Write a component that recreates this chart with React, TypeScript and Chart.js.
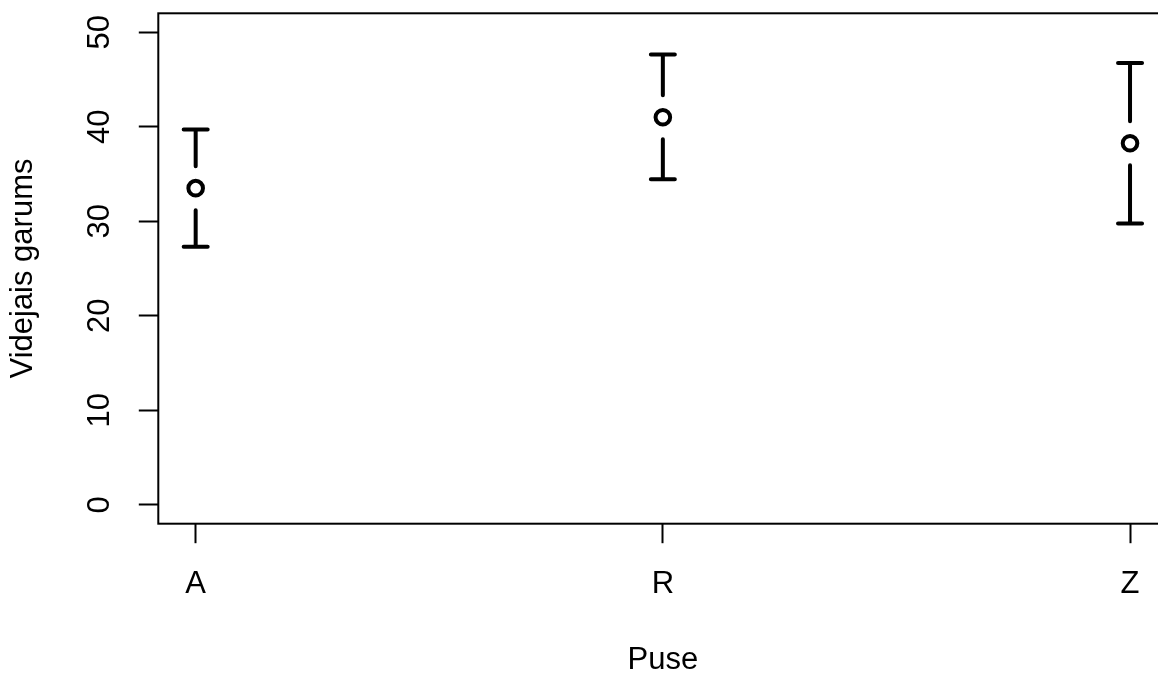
import React, { useEffect, useRef } from 'react';
import { Chart, registerables } from 'chart.js';

Chart.register(...registerables);

const categories = ['A', 'R', 'Z'];
const means = [33.5, 41.0, 38.25];
const upper = [39.7, 47.65, 46.75];
const lower = [27.3, 34.45, 29.75];
const yTicks = [0, 10, 20, 30, 40, 50];
const xTitle = 'Puse';
const yTitle = 'Videjais garums';

const FONT = '"Liberation Sans", Arial, Helvetica, sans-serif';
const FS = 31;

export default function App() {
  const ref = useRef<HTMLCanvasElement>(null);

  useEffect(() => {
    if (!ref.current) return;

    const errorBars = {
      id: 'errorBars',
      beforeDatasetsDraw(chart: any) {
        const { ctx, scales } = chart;
        const x = scales.x;
        const y = scales.y;
        ctx.save();
        ctx.strokeStyle = '#000';
        ctx.lineWidth = 4;
        ctx.lineCap = 'round';
        const gap = 22;
        const half = 12;
        categories.forEach((_, i) => {
          const px = x.getPixelForValue(i + 1);
          const pm = y.getPixelForValue(means[i]);
          const pu = y.getPixelForValue(upper[i]);
          const pl = y.getPixelForValue(lower[i]);
          ctx.beginPath();
          ctx.moveTo(px, pu);
          ctx.lineTo(px, pm - gap);
          ctx.moveTo(px, pm + gap);
          ctx.lineTo(px, pl);
          ctx.moveTo(px - half, pu);
          ctx.lineTo(px + half, pu);
          ctx.moveTo(px - half, pl);
          ctx.lineTo(px + half, pl);
          ctx.stroke();
        });
        ctx.restore();
      },
    };

    const box = {
      id: 'box',
      afterDraw(chart: any) {
        const { ctx, chartArea: a } = chart;
        ctx.save();
        ctx.strokeStyle = '#000';
        ctx.lineWidth = 2;
        ctx.strokeRect(a.left, a.top, a.right - a.left, a.bottom - a.top);
        ctx.restore();
      },
    };

    const chart = new Chart(ref.current, {
      type: 'scatter',
      data: {
        datasets: [
          {
            data: means.map((m, i) => ({ x: i + 1, y: m })),
            pointRadius: 7.3,
            pointHoverRadius: 7.3,
            borderWidth: 4,
            pointBorderWidth: 4,
            borderColor: '#000',
            backgroundColor: '#fff',
            pointBackgroundColor: '#fff',
            pointBorderColor: '#000',
            showLine: false,
          },
        ],
      },
      options: {
        responsive: false,
        animation: false,
        events: [],
        layout: { padding: { left: 0, top: 13.3, right: 32.6, bottom: 0 } },
        plugins: { legend: { display: false }, tooltip: { enabled: false } },
        scales: {
          x: {
            type: 'linear',
            min: 0.92,
            max: 3.08,
            afterBuildTicks: (s: any) => {
              s.ticks = categories.map((_, i) => ({ value: i + 1 }));
            },
            ticks: {
              callback: (v: any) => categories[Math.round(v) - 1] ?? '',
              font: { family: FONT, size: FS },
              color: '#000',
              padding: 22.5,
              minRotation: 0,
              maxRotation: 0,
              autoSkip: false,
            },
            grid: {
              drawOnChartArea: false,
              drawTicks: true,
              tickLength: 19.5,
              tickWidth: 2,
              tickColor: '#000',
            },
            border: { display: false },
            title: {
              display: true,
              text: xTitle,
              color: '#000',
              font: { family: FONT, size: FS, lineHeight: 1 },
              padding: { top: 0, bottom: -2.5 },
            },
            afterFit: (s: any) => {
              s.height = 149.3;
              s.paddingLeft = 0;
              s.paddingRight = 0;
            },
          },
          y: {
            type: 'linear',
            min: -2,
            max: 52,
            afterBuildTicks: (s: any) => {
              s.ticks = yTicks.map((v) => ({ value: v }));
            },
            ticks: {
              font: { family: FONT, size: FS },
              color: '#000',
              padding: 21.1,
              crossAlign: 'center',
              minRotation: 90,
              maxRotation: 90,
            },
            grid: {
              drawOnChartArea: false,
              drawTicks: true,
              tickLength: 19.5,
              tickWidth: 2,
              tickColor: '#000',
            },
            border: { display: false },
            title: {
              display: true,
              text: yTitle,
              color: '#000',
              font: { family: FONT, size: FS, lineHeight: 1 },
              padding: { top: 7.8, bottom: 0 },
            },
            afterFit: (s: any) => {
              s.width = 158.3;
              s.paddingTop = 0;
              s.paddingBottom = 0;
            },
          },
        },
      } as any,
      plugins: [errorBars, box],
    });

    return () => chart.destroy();
  }, []);

  return (
    <div
      style={{
        position: 'fixed',
        left: 0,
        top: 0,
        width: 1158,
        height: 673,
        overflow: 'hidden',
        background: '#fff',
      }}
    >
      <canvas
        ref={ref}
        width={1200}
        height={673}
        style={{ display: 'block', width: 1200, height: 673 }}
      />
    </div>
  );
}
